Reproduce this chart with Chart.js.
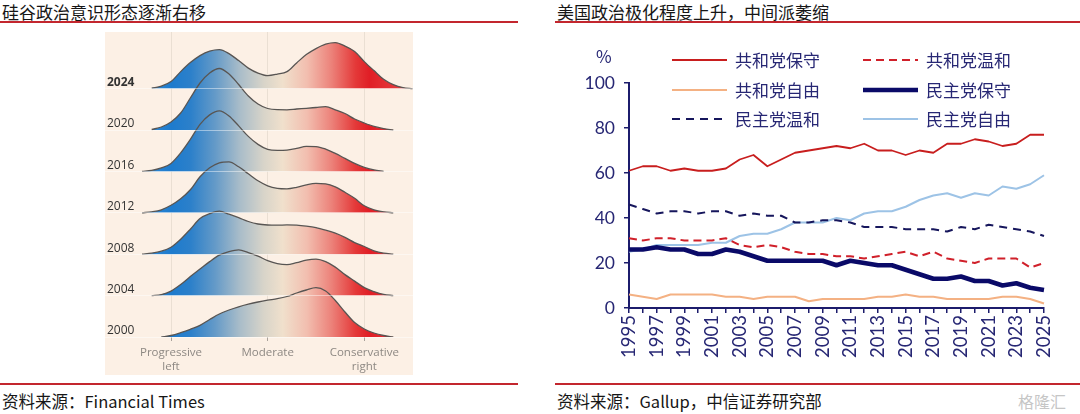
<!DOCTYPE html>
<html lang="zh-CN">
<head>
<meta charset="utf-8">
<title>硅谷政治意识形态 / 美国政治极化</title>
<script src="https://cdn.jsdelivr.net/npm/chart.js@4.4.1/dist/chart.umd.min.js"></script>
<style>
body{margin:0;width:1080px;height:414px;background:#fff;position:relative;overflow:hidden;
  font-family:'Noto Sans CJK SC',sans-serif;color:#161616;}
.title{position:absolute;top:1px;font-size:17px;line-height:22px;white-space:nowrap;}
.rule{position:absolute;height:2px;background:#c3262e;}
.source{position:absolute;top:390px;font-size:16.5px;line-height:22px;white-space:nowrap;}
#ridgeBox{position:absolute;left:105px;top:32px;width:308px;height:343px;background:#fcf0e5;}
#lineBox{position:absolute;left:560px;top:30px;width:520px;height:345px;}
.mark{position:absolute;left:1018px;top:390px;font-size:16px;line-height:22px;color:#c6c6c6;}
</style>
</head>
<body>
<div class="title" style="left:2px">硅谷政治意识形态逐渐右移</div>
<div class="rule" style="left:0;top:21px;width:518px"></div>
<div id="ridgeBox"><canvas id="ridge"></canvas></div>
<div class="rule" style="left:0;top:383px;width:518px"></div>
<div class="source" style="left:2px">资料来源：Financial Times</div>

<div class="title" style="left:557px">美国政治极化程度上升，中间派萎缩</div>
<div class="rule" style="left:555px;top:21px;width:525px"></div>
<div id="lineBox"><canvas id="lines"></canvas></div>
<div class="rule" style="left:555px;top:383px;width:525px"></div>
<div class="source" style="left:557px">资料来源：Gallup，中信证券研究部</div>
<div class="mark">格隆汇</div>

<script>
// ---- left: ideology ridges (FT) ----
const ideoX = [-1.3,-1.2,-1.1,-1.0,-0.9,-0.8,-0.7,-0.6,-0.5,-0.4,-0.3,-0.2,-0.1,0,
  0.1,0.2,0.3,0.4,0.5,0.6,0.7,0.8,0.9,1.0,1.1,1.2,1.3,1.4,1.5];
const ridgeYears = ['2000','2004','2008','2012','2016','2020','2024'];
const ridge2000 = [null,null,0,1.5,4.3,7.7,11.7,17.5,23,27,30.2,32.8,35,36.8,38.3,40.5,44,47,49.3,46,36.5,25,14.5,8,4,1.5,0,null,null];
const ridge2004 = [null,0,1,4.5,11,19,26.5,34,40.5,44,45.7,43,39.5,35,32,31,33,35.5,36.5,34,28.5,21,14.5,8,4,1.2,0,null,null];
const ridge2008 = [0,1,3,7,15,25,35.7,40.5,43,40,36.5,32.7,30.2,29.2,29,29.3,29,28,26.5,24,21,16.8,11.6,7.7,3.4,1,0,null,null];
const ridge2012 = [0,1,3,7.5,14,23,36,45,50,51,46,39,32,27,24.5,24,25.5,28,29.4,29,26,20.5,14.5,7,3,1,0,null,null];
const ridge2016 = [0,1,3.5,8,18.5,32,47,56.5,60.5,55.5,45.5,35,27,22,21,21.3,23,25,24.8,22.3,18,13,8,4,1.5,0,null,null,null];
const ridge2020 = [null,0.5,3,8,17,32,47,57,61.5,56,45.5,34,26,21.5,20.3,20.2,21,21.7,22.5,23.3,20.2,16.5,11,7,3.6,1.4,0,null,null];
const ridge2024 = [null,0.5,2.5,7,17,26,33,37.5,39,35,28,20.5,15.5,13,14.5,17,25.7,34,40,44.5,46,42.5,37,27,18,9.4,4,1,0];
const ridgeRows = [ridge2000, ridge2004, ridge2008, ridge2012, ridge2016, ridge2020, ridge2024];
const ideoTicks = [-1, 0, 1];
const ideoTickLabels = [['Progressive', 'left'], ['Moderate'], ['Conservative', 'right']];

// ---- right: Gallup ideology by party ----
const years = [];
for (let y = 1995; y <= 2025; y++) years.push(String(y));
const repCons = [61,63,63,61,62,61,61,62,66,68,63,66,69,70,71,72,71,73,70,70,68,70,69,73,73,75,74,72,73,77,77];
const repMod  = [31,30,31,31,30,30,30,31,28,27,28,27,25,24,24,23,23,22,23,24,25,23,25,22,21,20,22,22,22,18,20];
const repLib  = [6,5,4,6,6,6,6,5,5,4,5,5,5,3,4,4,4,4,5,5,6,5,5,4,4,4,4,5,5,4,2];
const demCons = [26,26,27,26,26,24,24,26,25,23,21,21,21,21,21,19,21,20,19,19,17,15,13,13,14,12,12,10,11,9,8];
const demMod  = [46,44,42,43,43,42,43,43,41,42,41,41,38,38,39,39,38,36,36,36,35,35,35,34,36,35,37,36,35,34,32];
const demLib  = [25,26,28,28,28,28,29,29,32,33,33,35,38,38,38,40,39,42,43,43,45,48,50,51,49,51,50,54,53,55,59];
const seriesNames = ['共和党保守','共和党温和','共和党自由','民主党保守','民主党温和','民主党自由'];
const yTicks = [0, 20, 40, 60, 80, 100];

// styles
const rowGap = 41.4;
const ridgeStops = [
  [0.00, 'rgb(52,140,215)'], [0.11, 'rgb(30,123,205)'], [0.18, 'rgb(44,128,202)'],
  [0.27, 'rgb(100,154,200)'], [0.36, 'rgb(168,188,201)'], [0.45, 'rgb(216,212,201)'],
  [0.52, 'rgb(240,224,204)'], [0.61, 'rgb(242,190,175)'], [0.70, 'rgb(236,130,122)'],
  [0.79, 'rgb(228,56,56)'], [0.84, 'rgb(224,30,38)'], [1.00, 'rgb(232,72,72)']
];
const navy = '#1c1c6c';
const navyText = '#272774';

function ridgeFill(context) {
  const chart = context.chart;
  if (!chart.chartArea) return 'rgba(0,0,0,0)';
  const xs = chart.scales.x;
  const g = chart.ctx.createLinearGradient(xs.getPixelForValue(ideoX[0]), 0,
    xs.getPixelForValue(ideoX[ideoX.length - 1]), 0);
  ridgeStops.forEach(s => g.addColorStop(s[0], s[1]));
  return g;
}

const ridgeDatasets = ridgeRows.map((h, r) => ({
  label: ridgeYears[r],
  data: ideoX.map((x, i) => ({ x: x, y: h[i] === null ? null : r * rowGap + h[i] })),
  fill: { value: r * rowGap },
  backgroundColor: ridgeFill,
  borderColor: '#585553',
  borderWidth: 1.3,
  pointRadius: 0,
  cubicInterpolationMode: 'monotone'
}));

new Chart(document.getElementById('ridge'), {
  type: 'line',
  data: { datasets: ridgeDatasets },
  options: {
    animation: false,
    responsive: true,
    maintainAspectRatio: false,
    layout: { padding: 0 },
    plugins: { legend: { display: false }, tooltip: { enabled: false } },
    scales: {
      x: {
        type: 'linear', min: -1.683, max: 1.504,
        afterBuildTicks: s => { s.ticks = ideoTicks.map(v => ({ value: v })); },
        afterFit: s => { s.height = 38; s.paddingLeft = 0; s.paddingRight = 0; },
        grid: { color: '#eadfd3', lineWidth: 1, tickLength: 4, tickColor: '#a8a19a' },
        border: { display: false },
        ticks: {
          autoSkip: false, maxRotation: 0, padding: 5,
          callback: v => ideoTickLabels[ideoTicks.indexOf(v)],
          font: { family: 'Open Sans', size: 11.5 }, color: '#8d8883'
        }
      },
      y: {
        min: 0, max: 305, position: 'left',
        afterBuildTicks: s => { s.ticks = ridgeYears.map((_, r) => ({ value: r * rowGap })); },
        afterFit: s => { s.width = 0; s.paddingTop = 0; s.paddingBottom = 0; },
        grid: { z: 1, color: 'rgba(255,255,255,0.45)', drawTicks: false },
        border: { display: false },
        ticks: {
          z: 1, mirror: true, padding: 2, labelOffset: -6,
          callback: v => ridgeYears[Math.round(v / rowGap)],
          font: ctx => ({ family: 'Open Sans', size: 12,
            weight: ctx.index === ridgeYears.length - 1 ? 'bold' : 'normal' }),
          color: '#333'
        }
      }
    }
  }
});

// legend in two columns, drawn over the top of the plot like the original
const legendCols = [112, 303];
const legendRows = [30, 60, 89];
const gridLegend = {
  id: 'gridLegend',
  afterDraw(chart) {
    const c = chart.ctx;
    c.save();
    c.font = '17px "Noto Sans CJK SC"';
    c.textBaseline = 'middle';
    c.fillStyle = navyText;
    c.fillText('%', 36, 27);
    chart.data.datasets.forEach((ds, i) => {
      const x0 = legendCols[i % 2], y = legendRows[Math.floor(i / 2)];
      c.strokeStyle = ds.borderColor;
      c.lineWidth = ds.borderWidth;
      c.setLineDash(ds.borderDash || []);
      c.beginPath(); c.moveTo(x0, y); c.lineTo(x0 + 55, y); c.stroke();
      c.setLineDash([]);
      c.fillText(ds.label, x0 + 63, y + 1);
    });
    c.restore();
  }
};

function partyLine(i, data, color, width, dash) {
  return { label: seriesNames[i], data: data, borderColor: color, borderWidth: width,
    borderDash: dash, pointRadius: 0, tension: 0, fill: false, borderJoinStyle: 'round' };
}

new Chart(document.getElementById('lines'), {
  type: 'line',
  data: {
    labels: years,
    datasets: [
      partyLine(0, repCons, '#c81e1e', 1.8, []),
      partyLine(1, repMod, '#d0202a', 2, [8, 5]),
      partyLine(2, repLib, '#f4b183', 2, []),
      partyLine(3, demCons, '#0a0a68', 4.5, []),
      partyLine(4, demMod, '#16165c', 2, [8, 6]),
      partyLine(5, demLib, '#9dc3e6', 2, [])
    ]
  },
  plugins: [gridLegend],
  options: {
    animation: false,
    responsive: true,
    maintainAspectRatio: false,
    layout: { padding: { top: 53, right: 36, left: 0, bottom: 0 } },
    plugins: { legend: { display: false }, tooltip: { enabled: false } },
    scales: {
      x: {
        afterFit: s => { s.height = 67; },
        grid: { drawOnChartArea: false, tickLength: 5, color: navy, lineWidth: 1.5 },
        border: { color: navy, width: 2 },
        ticks: {
          autoSkip: false, maxRotation: 90, minRotation: 90, padding: 2,
          callback: (v, i) => (i % 2 === 0 ? years[i] : ''),
          font: { family: 'Lato', size: 18.5 }, color: navyText
        }
      },
      y: {
        min: 0, max: 100,
        afterBuildTicks: s => { s.ticks = yTicks.map(v => ({ value: v })); },
        afterFit: s => { s.width = 69; },
        grid: { drawOnChartArea: false, tickLength: 5, color: navy, lineWidth: 1.5 },
        border: { color: navy, width: 2 },
        ticks: { padding: 9, font: { family: 'Lato', size: 17.5 }, color: navyText }
      }
    }
  }
});
</script>
</body>
</html>
